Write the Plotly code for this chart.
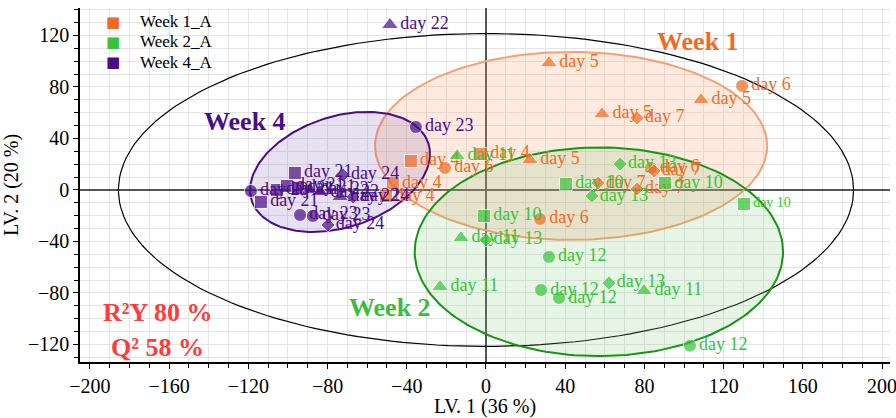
import numpy as np
import plotly.graph_objects as go

# ---------------- data ----------------
w1_x = [31.8, 129.3, 108.6, 58.6, 76.3, -2.5, 22.2, -37.9, -20.7, -47.0, -50.5, 27.3, 56.6, 76.3, 83.3, 84.8]
w1_y = [98.6, 80.8, 69.9, 59.0, 55.9, 28.0, 23.3, 22.5, 17.1, 5.4, -4.7, -22.5, 5.4, 0.8, 17.1, 14.8]
w1_sym = ["triangle-up", "circle", "triangle-up", "triangle-up", "diamond", "square", "triangle-up", "square",
          "circle", "square", "square", "circle", "diamond", "diamond", "circle", "diamond"]
w1_lab = ["day 5", "day 6", "day 5", "day 5", "day 7", "day 4", "day 5", "day 4",
          "day 6", "day 4", "day 4", "day 6", "day 7", "day 7", "day 6", "day 7"]

w2_x = [-14.6, 40.4, 67.7, 53.5, 90.4, 130.3, -1.0, -12.6, 0.0, 31.8, -23.2, 27.8, 36.9, 62.1, 79.8, 103.0]
w2_y = [26.4, 4.7, 20.2, -4.7, 5.4, -10.9, -20.2, -37.3, -38.8, -52.0, -75.3, -77.7, -83.9, -72.2, -78.4, -121.0]
w2_sym = ["triangle-up", "square", "diamond", "diamond", "square", "square", "square", "triangle-up",
          "diamond", "circle", "triangle-up", "circle", "circle", "diamond", "triangle-up", "circle"]
w2_lab = ["day 11", "day 10", "day 13", "day 13", "day 10", "day 10", "day 10", "day 11",
          "day 13", "day 12", "day 11", "day 12", "day 12", "day 13", "day 11", "day 12"]

w4_x = [-48.5, -35.4, -96.5, -72.2, -118.7, -105.6, -100.5, -95.0, -88.9, -83.8, -113.6, -93.9, -87.4, -79.8, -73.7, -67.2]
w4_y = [128.2, 48.9, 13.2, 11.7, -0.8, 0.0, 3.1, 1.6, 0.0, -1.6, -9.3, -19.4, -20.2, -27.2, -5.4, -5.4]
w4_sym = ["triangle-up", "circle", "square", "diamond", "circle", "square", "square", "square",
          "triangle-up", "triangle-up", "square", "circle", "circle", "diamond", "triangle-up", "diamond"]
w4_lab = ["day 22", "day 23", "day 21", "day 24", "day 23", "day 21", "day 21", "day 21",
          "day 22", "day 22", "day 21", "day 23", "day 23", "day 24", "day 22", "day 24"]

legend_names = ["Week 1_A", "Week 2_A", "Week 4_A"]

# ellipse parameters: center x, center y, axis-1 vector (ux, uy), axis-2 vector (vx, vy)
ell_t2 = (0.0, 0.0, 185.6, 0.0, 0.0, 121.5)
ell_w1 = (43.0, 34.2, 99.0, 0.0, 0.0, 73.0)
ell_w2 = (57.0, -48.0, 93.0, 0.0, 0.0, 81.0)
ell_w4 = (-73.7, 14.0, 44.6, 22.2, -8.6, 41.0)

C1 = "#F26A22"
C2 = "#36C436"
C4 = "#4A0D86"
FONT = "Liberation Serif"

MSIZE = {"square": 13, "circle": 13, "triangle-up": 15, "diamond": 11}


def ellipse(p, n=200):
    cx, cy, ux, uy, vx, vy = p
    t = np.linspace(0, 2 * np.pi, n)
    return cx + ux * np.cos(t) + vx * np.sin(t), cy + uy * np.cos(t) + vy * np.sin(t)


fig = go.Figure()

# Hotelling ellipse
ex, ey = ellipse(ell_t2)
fig.add_trace(go.Scatter(x=ex, y=ey, mode="lines", line=dict(color="black", width=1.2),
                         showlegend=False, hoverinfo="skip"))

for p, lc, fc in [(ell_w1, "#F5A070", "rgba(250,160,110,0.22)"),
                  (ell_w2, "#149614", "rgba(120,200,120,0.18)"),
                  (ell_w4, "#4A0D86", "rgba(130,90,180,0.18)")]:
    ex, ey = ellipse(p)
    fig.add_trace(go.Scatter(x=ex, y=ey, mode="lines", fill="toself", fillcolor=fc,
                             line=dict(color=lc, width=2), showlegend=False, hoverinfo="skip"))

for xs, ys, syms, labs, col, nm in [(w1_x, w1_y, w1_sym, w1_lab, C1, legend_names[0]),
                                    (w2_x, w2_y, w2_sym, w2_lab, C2, legend_names[1]),
                                    (w4_x, w4_y, w4_sym, w4_lab, C4, legend_names[2])]:
    sizes = [MSIZE[s] for s in syms]
    tsizes = [14 if (x > 120 and y < 0) else 18 for x, y in zip(xs, ys)]
    fig.add_trace(go.Scatter(x=xs, y=ys, mode="markers+text", text=labs, name=nm,
                             textposition="middle right",
                             textfont=dict(family=FONT, size=tsizes, color=col),
                             marker=dict(symbol=syms, size=sizes, color=col),
                             showlegend=False))

# legend (drawn as text so the row spacing matches the original)
leg_y = [0.9605, 0.904, 0.847]
for name, col, yy in zip(legend_names, [C1, C2, C4], leg_y):
    fig.add_annotation(x=0.0407, y=yy, xref="paper", yref="paper", text="■", showarrow=False,
                       xanchor="center", yanchor="middle",
                       font=dict(family="DejaVu Sans", size=15, color=col))
    fig.add_annotation(x=0.0716, y=yy, xref="paper", yref="paper", text=name, showarrow=False,
                       xanchor="left", yanchor="middle",
                       font=dict(family=FONT, size=17, color="black"))

annots = [
    dict(x=107, y=115, text="<b>Week 1</b>", color=C1),
    dict(x=-121.7, y=52.8, text="<b>Week 4</b>", color=C4),
    dict(x=-48.5, y=-91.6, text="<b>Week 2</b>", color="#3DBB3D"),
    dict(x=-166, y=-95.5, text="<b>R²Y 80 %</b>", color="#FF3B3B"),
    dict(x=-166, y=-122, text="<b>Q² 58 %</b>", color="#FF3B3B"),
]
for a in annots:
    fig.add_annotation(x=a["x"], y=a["y"], text=a["text"], showarrow=False,
                       font=dict(family=FONT, size=26, color=a["color"]))

axis_common = dict(
    showgrid=True, gridcolor="#E4E4E4", gridwidth=1,
    showline=True, linecolor="black", linewidth=1.5,
    ticks="outside", ticklen=5, tickcolor="black",
    zeroline=True, zerolinecolor="#555555", zerolinewidth=1.5,
    tickfont=dict(family=FONT, size=20, color="black"),
    ticklabeloverflow="allow", automargin=False,
    minor=dict(dtick=10, showgrid=True, gridcolor="#E4E4E4", ticks="outside", ticklen=4, tickcolor="black"),
)

fig.update_layout(
    width=896, height=418,
    margin=dict(l=80, r=6, t=8, b=56),
    paper_bgcolor="white", plot_bgcolor="white",
    font=dict(family=FONT, color="black"),
    showlegend=False,
    xaxis=dict(range=[-205, 204], dtick=40, tick0=0,
               title=dict(text="LV. 1 (36 %)", font=dict(family=FONT, size=20), standoff=2),
               **axis_common),
    yaxis=dict(range=[-133.6, 141.3], dtick=40, tick0=0,
               title=dict(text="LV. 2 (20 %)", font=dict(family=FONT, size=20), standoff=4),
               **axis_common),
)

fig.write_html("out.html")
